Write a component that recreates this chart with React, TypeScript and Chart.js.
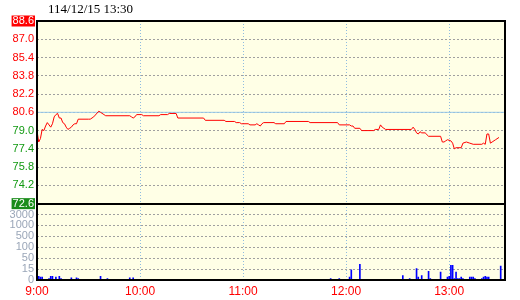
import { useEffect, useRef } from "react";
import { Chart, registerables } from "chart.js";

Chart.register(...registerables);

const titleText = "114/12/15 13:30";
const refPrice = 80.6;
const priceTicks = [88.6, 87.0, 85.4, 83.8, 82.2, 80.6, 79.0, 77.4, 75.8, 74.2, 72.6];
const timeTicks = [0, 60, 120, 180, 240];
const timeLabels = ["9:00", "10:00", "11:00", "12:00", "13:00"];
const volTickValues = [0, 15, 50, 100, 500, 1000, 3000, 5000];
const volTickLabels = ["0", "15", "50", "100", "500", "1000", "3000"];
const xMaxMinutes = 272.5;

// minutes since 9:00
const priceTimes = [
  0, 1, 2, 3, 4, 5, 6, 7, 8, 9, 10, 11, 12, 13, 14, 15, 16, 17, 18, 19, 20, 21, 22, 23, 24,
  30, 31, 33, 36, 37, 39, 40, 54, 55, 56, 57, 58, 61, 62, 71, 72, 76, 77, 81, 82, 97, 98,
  109, 110, 115, 116, 118, 119, 123, 124, 127, 128, 129, 130, 131, 132, 138, 139, 144, 145,
  158, 159, 175, 176, 182, 183, 184, 185, 188, 189, 196, 197, 199, 200, 201, 202, 203, 218,
  219, 220, 221, 222, 223, 224, 226, 228, 235, 236, 237, 238, 239, 241, 242, 243, 244, 247,
  248, 250, 252, 254, 259, 260, 261, 262, 263, 264, 265, 267, 269,
];
const prices = [
  79.0, 78.0, 78.3, 79.1, 79.0, 79.4, 79.7, 79.5, 79.3, 79.6, 80.2, 80.4, 80.5, 80.1, 80.1, 79.7,
  79.6, 79.3, 79.1, 79.2, 79.3, 79.5, 79.6, 79.6, 80.0,
  80.0, 80.0, 80.2, 80.7, 80.6, 80.4, 80.3, 80.3, 80.2, 80.1, 80.2, 80.4, 80.4, 80.3, 80.3, 80.4,
  80.4, 80.5, 80.5, 80.1, 80.1, 79.9,
  79.9, 79.8, 79.8, 79.7, 79.7, 79.6, 79.6, 79.5, 79.5, 79.6, 79.5, 79.4, 79.6, 79.7, 79.7, 79.6,
  79.6, 79.8,
  79.8, 79.7, 79.7, 79.5, 79.5, 79.4, 79.4, 79.2, 79.2, 79.0, 79.0, 79.1, 79.1, 79.5, 79.3, 79.2,
  79.1, 79.1,
  79.3, 79.1, 78.8, 78.7, 78.9, 78.8, 78.8, 78.5, 78.5, 78.0, 78.0, 78.1, 78.2, 78.1, 77.9, 77.4,
  77.5, 77.5,
  77.9, 78.0, 77.9, 77.8, 77.8, 77.9, 77.8, 78.7, 78.7, 77.9, 78.0, 78.2, 78.4,
];

const volTimes = [
  0, 1, 2, 3, 7, 8, 9, 11, 13, 14, 20, 23, 24, 37, 41, 54, 56, 171, 176, 182, 183, 188, 213, 217,
  221, 222, 224, 228, 229, 235, 239, 240, 241, 242, 243, 244, 245, 246, 247, 248, 252, 253, 254,
  255, 259, 260, 261, 262, 263, 270,
];
const volumes = [
  8, 5, 4, 4, 2, 5, 5, 4, 5, 2, 3, 3, 2, 5, 2, 3, 3, 2, 2, 4, 14, 30, 6, 2,
  17, 4, 6, 12, 2, 11, 4, 5, 27, 27, 2, 11, 2, 2, 4, 2, 4, 4, 4,
  2, 2, 4, 5, 4, 4, 25,
];

const SANS = "'Liberation Sans', Arial, sans-serif";
const SERIF = "'Liberation Serif', 'Times New Roman', serif";

// map a volume onto the evenly spaced (piecewise linear) volume axis
function volPos(v: number): number {
  for (let i = 0; i < volTickValues.length - 1; i++) {
    const a = volTickValues[i];
    const b = volTickValues[i + 1];
    if (v <= b) return i + (v - a) / (b - a);
  }
  return volTickValues.length - 1;
}

const isLimit = (v: number) =>
  Math.abs(v - priceTicks[0]) < 1e-6 || Math.abs(v - priceTicks[priceTicks.length - 1]) < 1e-6;

const bgPlugin = {
  id: "plotBg",
  beforeDraw(chart: any) {
    const { ctx, chartArea: a } = chart;
    ctx.save();
    ctx.fillStyle = "#ffffe6";
    ctx.fillRect(a.left, a.top, a.right - a.left, a.bottom - a.top);
    ctx.restore();
  },
};

const framePlugin = {
  id: "frame",
  afterDatasetsDraw(chart: any) {
    const { ctx, chartArea: a } = chart;
    const divider = Math.round(chart.scales.y.bottom);
    ctx.save();
    ctx.strokeStyle = "#000";
    ctx.lineWidth = 2;
    ctx.strokeRect(a.left, a.top, a.right - a.left, a.bottom - a.top);
    ctx.beginPath();
    ctx.moveTo(a.left, divider);
    ctx.lineTo(a.right, divider);
    ctx.stroke();
    ctx.restore();
  },
  afterDraw(chart: any) {
    const { ctx } = chart;
    ctx.save();
    ctx.fillStyle = "#000";
    ctx.font = `13px ${SERIF}`;
    ctx.textBaseline = "alphabetic";
    ctx.fillText(titleText, 48, 13);
    ctx.restore();
  },
};

export default function App() {
  const ref = useRef<HTMLCanvasElement | null>(null);

  useEffect(() => {
    document.body.style.margin = "0";
    const canvas = ref.current;
    if (!canvas) return;
    const chart = new Chart(canvas, {
      type: "line",
      data: {
        datasets: [
          {
            type: "line",
            data: [
              { x: 0, y: refPrice },
              { x: xMaxMinutes, y: refPrice },
            ],
            borderColor: "#96c8ea",
            borderWidth: 1,
            pointRadius: 0,
            yAxisID: "y",
            order: 3,
          },
          {
            type: "line",
            data: priceTimes.map((t, i) => ({ x: t, y: prices[i] })),
            borderColor: "#ff0000",
            borderWidth: 1,
            pointRadius: 0,
            tension: 0,
            yAxisID: "y",
            order: 1,
          },
          {
            type: "bar",
            data: volTimes.map((t, i) => ({ x: t, y: volPos(volumes[i]) })),
            backgroundColor: "#0000ff",
            barThickness: 1,
            yAxisID: "yv",
            order: 2,
          } as any,
        ],
      },
      options: {
        responsive: false,
        animation: false,
        devicePixelRatio: 1,
        layout: { padding: { top: 21, right: 15, left: 0, bottom: 0 } },
        plugins: {
          legend: { display: false },
          tooltip: { enabled: false },
          title: { display: false },
        },
        scales: {
          x: {
            type: "linear",
            min: 0,
            max: xMaxMinutes,
            offset: false,
            afterBuildTicks: (s: any) => {
              s.ticks = timeTicks.map((v) => ({ value: v }));
            },
            afterFit: (s: any) => {
              s.height = 20;
            },
            grid: { color: "#8fbce0", drawTicks: false, lineWidth: 1, offset: false },
            border: { display: false, dash: [1, 2] },
            ticks: {
              autoSkip: false,
              maxRotation: 0,
              padding: 4,
              color: "#ff0000",
              font: { family: SANS, size: 12 },
              callback: (v: any) => {
                const i = timeTicks.indexOf(Number(v));
                return i >= 0 ? timeLabels[i] : "";
              },
            },
          },
          yv: {
            type: "linear",
            position: "left",
            stack: "main",
            stackWeight: 76.5,
            min: 0,
            max: volTickValues.length - 1,
            afterBuildTicks: (s: any) => {
              s.ticks = volTickLabels.map((_, i) => ({ value: i }));
            },
            afterFit: (s: any) => {
              s.width = 37;
            },
            grid: { color: "#a0a0a0", drawTicks: false, lineWidth: 1 },
            border: { display: false, dash: [2, 2] },
            ticks: {
              autoSkip: false,
              padding: 3,
              color: "#9aa6b8",
              font: { family: SANS, size: 11, lineHeight: 1 },
              callback: (v: any) => volTickLabels[Math.round(Number(v))] ?? "",
            },
          },
          y: {
            type: "linear",
            position: "left",
            stack: "main",
            stackWeight: 183,
            min: priceTicks[priceTicks.length - 1],
            max: priceTicks[0],
            afterBuildTicks: (s: any) => {
              s.ticks = priceTicks.map((v) => ({ value: v }));
            },
            afterFit: (s: any) => {
              s.width = 37;
            },
            grid: { color: "#a0a0a0", drawTicks: false, lineWidth: 1 },
            border: { display: false, dash: [2, 2] },
            ticks: {
              autoSkip: false,
              padding: 3,
              font: { family: SANS, size: 11, lineHeight: 1 },
              color: (ctx: any) => {
                const v = ctx.tick ? ctx.tick.value : 0;
                if (isLimit(v)) return "#ffffff";
                return v >= refPrice - 1e-6 ? "#ff0000" : "#119911";
              },
              showLabelBackdrop: (ctx: any) => (ctx.tick ? isLimit(ctx.tick.value) : false),
              backdropColor: (ctx: any) =>
                ctx.tick && ctx.tick.value > refPrice ? "#ff0000" : "#1a8c1a",
              backdropPadding: { top: 0, bottom: 0, left: 1, right: 1 },
              callback: (v: any) => Number(v).toFixed(1),
            } as any,
          },
        },
      } as any,
      plugins: [bgPlugin, framePlugin],
    });
    return () => chart.destroy();
  }, []);

  return (
    <canvas
      ref={ref}
      width={520}
      height={300}
      style={{ display: "block", position: "absolute", left: 0, top: 0, width: 520, height: 300 }}
    />
  );
}
